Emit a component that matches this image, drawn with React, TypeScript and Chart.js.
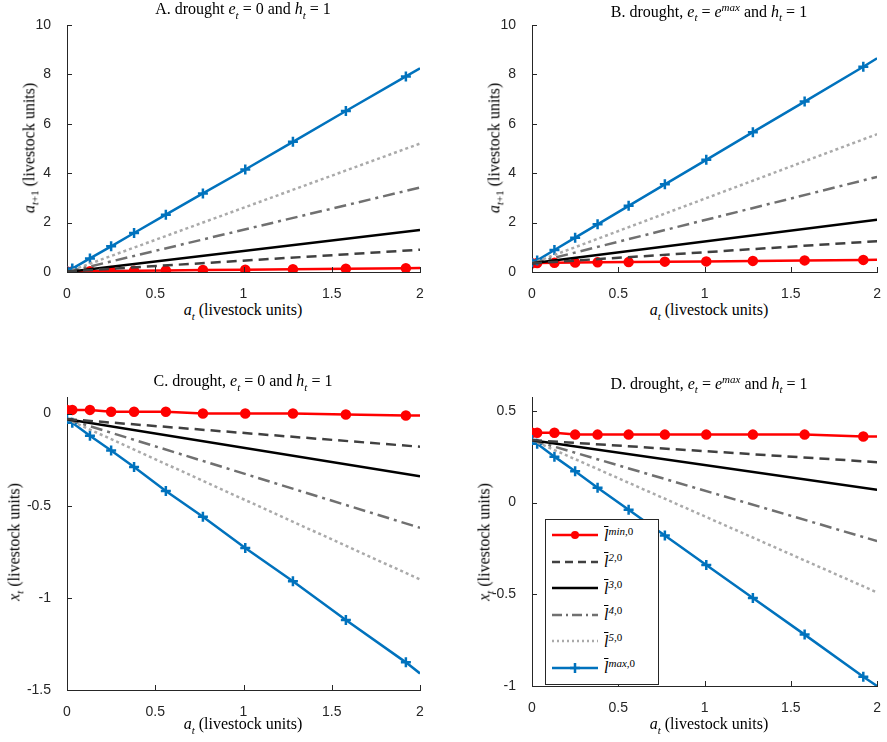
import React, { useEffect, useRef } from 'react';
import Chart from 'chart.js/auto';

// marker positions along a_t (last point is the axis end, no marker)
const xMarks = [0, 0.03, 0.13, 0.25, 0.38, 0.56, 0.77, 1.01, 1.28, 1.58, 1.92, 2];
const xEnds = [0, 2];

const redA = [0.02, 0.02, 0.03, 0.04, 0.05, 0.06, 0.08, 0.09, 0.11, 0.13, 0.15, 0.16];
const blueA = [0.02, 0.14, 0.55, 1.04, 1.58, 2.32, 3.18, 4.15, 5.27, 6.52, 7.92, 8.25];
const l2A = [0.02, 0.9];
const l3A = [0.0, 1.7];
const l4A = [0.0, 3.42];
const l5A = [0.0, 5.2];

const redB = [0.35, 0.36, 0.37, 0.38, 0.39, 0.4, 0.42, 0.43, 0.45, 0.47, 0.49, 0.5];
const blueB = [0.35, 0.47, 0.89, 1.39, 1.93, 2.68, 3.55, 4.54, 5.66, 6.9, 8.31, 8.65];
const l2B = [0.35, 1.25];
const l3B = [0.35, 2.12];
const l4B = [0.35, 3.85];
const l5B = [0.35, 5.58];

const redC = [0.02, 0.02, 0.02, 0.01, 0.01, 0.01, 0.0, 0.0, 0.0, -0.005, -0.01, -0.01];
const blueC = [-0.03, -0.05, -0.12, -0.2, -0.29, -0.42, -0.56, -0.73, -0.91, -1.12, -1.35, -1.41];
const l2C = [-0.03, -0.18];
const l3C = [-0.03, -0.34];
const l4C = [-0.03, -0.62];
const l5C = [-0.03, -0.9];

const redD = [0.38, 0.38, 0.38, 0.37, 0.37, 0.37, 0.37, 0.37, 0.37, 0.37, 0.36, 0.36];
const blueD = [0.34, 0.32, 0.25, 0.17, 0.08, -0.04, -0.18, -0.34, -0.52, -0.72, -0.95, -1.0];
const l2D = [0.34, 0.22];
const l3D = [0.34, 0.07];
const l4D = [0.34, -0.21];
const l5D = [0.34, -0.49];

const xTicks = [0, 0.5, 1, 1.5, 2];
const yTicksAB = [0, 2, 4, 6, 8, 10];
const yTicksC = [-1.5, -1, -0.5, 0];
const yTicksD = [-1, -0.5, 0, 0.5];

const BLUE = '#0072BD';
const RED = '#FF0000';
const AX = '#262626';
const SERIF = '"Liberation Serif", "DejaVu Serif", serif';
const SANS = '"Liberation Sans", Arial, sans-serif';

const pts = (xs: number[], ys: number[]) => ys.map((y, i) => ({ x: xs[i], y }));

const innerTicks = {
  id: 'innerTicks',
  afterDraw(chart: any) {
    const { ctx, chartArea: a, scales } = chart;
    ctx.save();
    ctx.strokeStyle = AX;
    ctx.lineWidth = 1;
    ctx.beginPath();
    scales.x.ticks.forEach((t: any) => {
      const px = Math.round(scales.x.getPixelForValue(t.value)) + 0.5;
      ctx.moveTo(px, a.bottom);
      ctx.lineTo(px, a.bottom - 5);
    });
    scales.y.ticks.forEach((t: any) => {
      const py = Math.round(scales.y.getPixelForValue(t.value)) + 0.5;
      ctx.moveTo(a.left, py);
      ctx.lineTo(a.left + 5, py);
    });
    ctx.stroke();
    ctx.restore();
  },
};

interface PanelProps {
  left: number; top: number; w: number; h: number;
  plotL: number; plotT: number; plotR: number; plotB: number;
  yMin: number; yMax: number; yTicks: number[];
  red: number[]; blue: number[]; l2: number[]; l3: number[]; l4: number[]; l5: number[];
}

const Panel: React.FC<PanelProps> = (p) => {
  const ref = useRef<HTMLCanvasElement>(null);
  useEffect(() => {
    if (!ref.current) return;
    const last = xMarks.length - 1;
    const line = (data: number[], color: string, dash: number[], width = 2.5) => ({
      data: pts(xEnds, data), borderColor: color, borderWidth: width, borderDash: dash,
      pointRadius: 0, fill: false,
    });
    const chart = new Chart(ref.current, {
      type: 'line',
      data: {
        datasets: [
          line(p.l2, '#404040', [10, 6]),
          line(p.l3, '#000000', []),
          line(p.l4, '#707070', [12, 5, 3, 5]),
          line(p.l5, '#AAAAAA', [3, 3]),
          {
            data: pts(xMarks, p.blue), borderColor: BLUE, backgroundColor: BLUE, borderWidth: 2.5,
            pointStyle: 'cross', pointRadius: xMarks.map((_, i) => (i === last ? 0 : 5)),
            pointBorderWidth: 2.5, fill: false,
          },
          {
            data: pts(xMarks, p.red), borderColor: RED, backgroundColor: RED, borderWidth: 2.5,
            pointStyle: 'circle', pointRadius: xMarks.map((_, i) => (i === last ? 0 : 4)),
            fill: false,
          },
        ] as any,
      },
      options: {
        animation: false,
        responsive: false,
        layout: { padding: { left: 0, top: p.plotT, right: p.w - p.plotR, bottom: 0 } },
        plugins: { legend: { display: false }, tooltip: { enabled: false } },
        scales: {
          x: {
            type: 'linear', min: 0, max: 2,
            grid: { display: false },
            border: { color: AX },
            ticks: { color: AX, font: { family: SANS, size: 14 }, maxRotation: 0, padding: 6,
              callback: (v: any) => String(v) },
            afterBuildTicks: (s: any) => { s.ticks = xTicks.map((v) => ({ value: v })); },
            afterFit: (s: any) => { s.height = p.h - p.plotB; },
          },
          y: {
            type: 'linear', min: p.yMin, max: p.yMax,
            grid: { display: false },
            border: { color: AX },
            ticks: { color: AX, font: { family: SANS, size: 14 }, padding: 8,
              callback: (v: any) => String(v) },
            afterBuildTicks: (s: any) => { s.ticks = p.yTicks.map((v) => ({ value: v })); },
            afterFit: (s: any) => { s.width = p.plotL; },
          },
        },
      },
      plugins: [innerTicks],
    });
    return () => chart.destroy();
  }, []);
  return (
    <canvas ref={ref} width={p.w} height={p.h}
      style={{ position: 'absolute', left: p.left, top: p.top, width: p.w, height: p.h }} />
  );
};

const I: React.FC<{ children: React.ReactNode }> = ({ children }) => <i>{children}</i>;
const et = <><I>e</I><sub style={{ fontSize: 11 }}><I>t</I></sub></>;
const ht = <><I>h</I><sub style={{ fontSize: 11 }}><I>t</I></sub></>;
const emax = <><I>e</I><sup style={{ fontSize: 11 }}><I>max</I></sup></>;

const Label: React.FC<{ x: number; y: number; rot?: boolean; children: React.ReactNode }> = ({ x, y, rot, children }) => (
  <div style={{
    position: 'absolute', left: x, top: y, fontFamily: SERIF, fontSize: 16, color: '#000',
    whiteSpace: 'nowrap', lineHeight: '18px',
    transform: rot ? 'translate(-50%, -50%) rotate(-90deg)' : 'translate(-50%, -50%)',
  }}>{children}</div>
);

const xLab = <><I>a</I><sub style={{ fontSize: 11 }}><I>t</I></sub> (livestock units)</>;
const yLabA = <><I>a</I><sub style={{ fontSize: 11 }}><I>t</I>+1</sub> (livestock units)</>;
const yLabC = <><I>x</I><sub style={{ fontSize: 11 }}><I>t</I></sub> (livestock units)</>;

const legendItems = [
  { name: 'min,0', color: RED, dash: '', marker: 'o' },
  { name: '2,0', color: '#404040', dash: '8 5', marker: '' },
  { name: '3,0', color: '#000000', dash: '', marker: '' },
  { name: '4,0', color: '#707070', dash: '10 4 2 4', marker: '' },
  { name: '5,0', color: '#AAAAAA', dash: '2 3', marker: '' },
  { name: 'max,0', color: BLUE, dash: '', marker: '+' },
];

const Legend: React.FC = () => (
  <div style={{
    position: 'absolute', left: 545, top: 519, width: 114, height: 166, background: '#fff',
    border: '1px solid #262626', boxSizing: 'border-box', fontFamily: SERIF, fontSize: 16,
  }}>
    {legendItems.map((it, i) => (
      <div key={i} style={{ position: 'absolute', left: 4, top: 3 + i * 26.5, height: 24, display: 'flex', alignItems: 'center' }}>
        <svg width={50} height={16}>
          <line x1={2} y1={8} x2={48} y2={8} stroke={it.color} strokeWidth={2.5} strokeDasharray={it.dash} />
          {it.marker === 'o' && <circle cx={25} cy={8} r={4} fill={it.color} />}
          {it.marker === '+' && <path d="M25 3 V13 M20 8 H30" stroke={it.color} strokeWidth={2.5} />}
        </svg>
        <span style={{ marginLeft: 4 }}>
          <span style={{ textDecoration: 'overline' }}><I>l</I></span>
          <sup style={{ fontSize: 11 }}><I>{it.name.split(',')[0]}</I>,0</sup>
        </span>
      </div>
    ))}
  </div>
);

export default function App() {
  useEffect(() => { document.body.style.margin = '0'; }, []);
  return (
    <div style={{ position: 'relative', width: 887, height: 742, background: '#fff', overflow: 'hidden' }}>
      <Panel left={0} top={0} w={443} h={300} plotL={67} plotT={25} plotR={420} plotB={272}
        yMin={0} yMax={10} yTicks={yTicksAB} red={redA} blue={blueA} l2={l2A} l3={l3A} l4={l4A} l5={l5A} />
      <Panel left={443} top={0} w={444} h={300} plotL={89} plotT={25} plotR={442} plotB={272}
        yMin={0} yMax={10} yTicks={yTicksAB} red={redB} blue={blueB} l2={l2B} l3={l3B} l4={l4B} l5={l5B} />
      <Panel left={0} top={371} w={443} h={348} plotL={67} plotT={26} plotR={420} plotB={319}
        yMin={-1.5} yMax={0.09} yTicks={yTicksC} red={redC} blue={blueC} l2={l2C} l3={l3C} l4={l4C} l5={l5C} />
      <Panel left={443} top={371} w={444} h={348} plotL={89} plotT={26} plotR={442} plotB={315}
        yMin={-1} yMax={0.575} yTicks={yTicksD} red={redD} blue={blueD} l2={l2D} l3={l3D} l4={l4D} l5={l5D} />

      <Label x={243} y={12}>A. drought {et} = 0 and {ht} = 1</Label>
      <Label x={709} y={12}>B. drought, {et} = {emax} and {ht} = 1</Label>
      <Label x={243} y={384}>C. drought, {et} = 0 and {ht} = 1</Label>
      <Label x={709} y={384}>D. drought, {et} = {emax} and {ht} = 1</Label>

      <Label x={243} y={313}>{xLab}</Label>
      <Label x={709} y={313}>{xLab}</Label>
      <Label x={243} y={727}>{xLab}</Label>
      <Label x={709} y={727}>{xLab}</Label>

      <Label x={32} y={148} rot>{yLabA}</Label>
      <Label x={497} y={148} rot>{yLabA}</Label>
      <Label x={17} y={542} rot>{yLabC}</Label>
      <Label x={487} y={542} rot>{yLabC}</Label>

      <Legend />
    </div>
  );
}
